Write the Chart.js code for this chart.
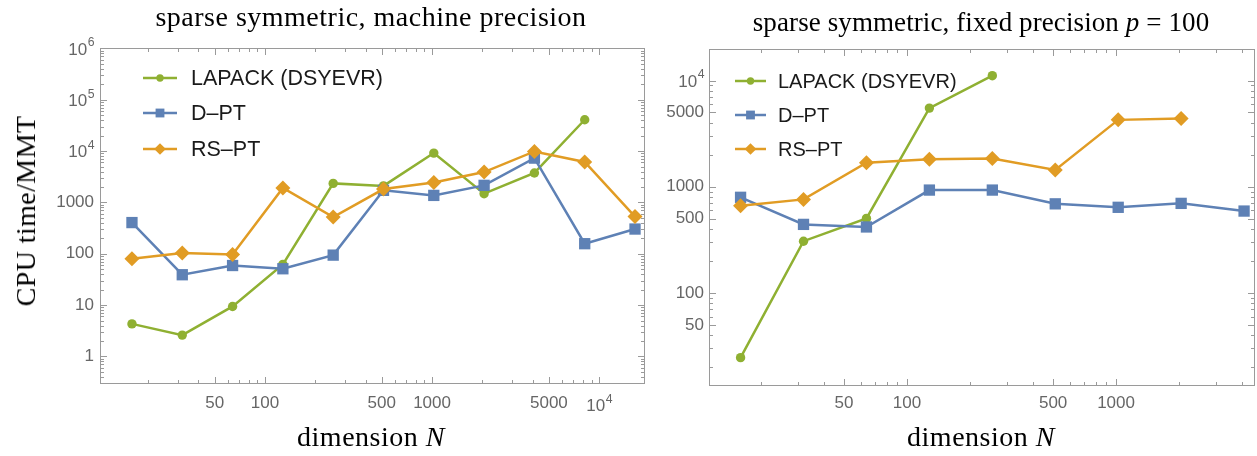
<!DOCTYPE html>
<html>
<head>
<meta charset="utf-8">
<script src="https://cdn.jsdelivr.net/npm/chart.js@4.4.1/dist/chart.umd.min.js"></script>
<style>
  html, body { margin: 0; padding: 0; background: #fff; }
  #wrap { position: relative; width: 1257px; height: 456px; overflow: hidden; }
  canvas { position: absolute; top: 0; }
  .serif {
    position: absolute; white-space: nowrap; color: #000;
    font-family: "Liberation Serif", "DejaVu Serif", serif;
    font-size: 28px; transform: translate(-50%, -50%);
  }
</style>
</head>
<body>
<div id="wrap">
  <canvas id="left" width="650" height="456" style="left:0"></canvas>
  <canvas id="right" width="607" height="456" style="left:650px"></canvas>
  <div class="serif" style="left:371px;top:17px;letter-spacing:0.5px">sparse symmetric, machine precision</div>
  <div class="serif" style="left:981px;top:22px;font-size:27px;letter-spacing:0.1px">sparse symmetric, fixed precision <i>p</i> = 100</div>
  <div class="serif" style="left:371px;top:437px;letter-spacing:0.5px">dimension <i>N</i></div>
  <div class="serif" style="left:981px;top:437px;letter-spacing:0.5px">dimension <i>N</i></div>
  <div class="serif" style="left:26px;top:211px;letter-spacing:0.4px;transform:translate(-50%,-50%) rotate(-90deg)">CPU time/MMT</div>
</div>
<script>
// matrix dimensions N
const dims = [16, 32, 64, 128, 256, 512, 1024, 2048, 4096, 8192, 16384];

// left panel: machine precision
const machLapack = [4.3, 2.6, 9.4, 62, 2350, 2100, 9150, 1480, 3750, 40800];
const machDPT = [405, 39, 59, 51, 94, 1720, 1370, 2150, 7300, 157, 303];
const machRSPT = [80, 103, 97, 1910, 520, 1820, 2450, 3900, 9850, 6150, 530];

// right panel: fixed precision p = 100
const fixedLapack = [24.6, 307, 503, 5500, 11100];
const fixedDPT = [795, 442, 418, 930, 930, 690, 640, 697, 590];
const fixedRSPT = [662, 760, 1680, 1810, 1840, 1440, 4260, 4390];

const seriesNames = ['LAPACK (DSYEVR)', 'D–PT', 'RS–PT'];

// tick labels ("10^4" gets drawn with a real superscript)
const leftXTicks = [50, 100, 500, 1000, 5000, 10000];
const leftXText = ['50', '100', '500', '1000', '5000', '10^4'];
const leftYTicks = [1, 10, 100, 1000, 10000, 100000, 1000000];
const leftYText = ['1', '10', '100', '1000', '10^4', '10^5', '10^6'];
const rightXTicks = [50, 100, 500, 1000];
const rightXText = ['50', '100', '500', '1000'];
const rightYTicks = [50, 100, 500, 1000, 5000, 10000];
const rightYText = ['50', '100', '500', '1000', '5000', '10^4'];

const GREEN = '#8fb032', BLUE = '#5e81b5', ORANGE = '#e19c24';
const FRAME = '#9a9a9a';
const TICKCOL = '#666';
const SANS = '"Liberation Sans", Arial, sans-serif';
const TICKSIZE = 17;

function pts(vals) {
  return vals.map((v, i) => ({ x: dims[i], y: v }));
}

// all 1..9 x 10^k values inside the range
function decadeTicks(min, max) {
  const out = [];
  for (let e = Math.floor(Math.log10(min)); e <= Math.ceil(Math.log10(max)); e++) {
    for (let m = 1; m <= 9; m++) {
      const v = m * Math.pow(10, e);
      if (v >= min && v <= max) out.push(v);
    }
  }
  return out;
}

function findTick(list, v) {
  return list.findIndex(u => Math.abs(u - v) < 1e-6 * u);
}

function logAxis(min, max, vals, text, size, pad) {
  return {
    type: 'logarithmic', min, max, bounds: 'data',
    grid: { display: false, drawTicks: false },
    border: { display: false },
    afterBuildTicks: (s) => {
      s.ticks = decadeTicks(min, max).map(v => ({ value: v, major: findTick(vals, v) >= 0 }));
    },
    afterFit: size,
    powLabels: { vals, text, pad },
    ticks: {
      autoSkip: false, maxRotation: 0, minRotation: 0, padding: pad,
      color: TICKCOL, font: { family: SANS, size: TICKSIZE },
      callback: (v) => {
        const i = findTick(vals, v);
        if (i < 0 || text[i].includes('^')) return '';
        return text[i];
      }
    }
  };
}

function makeSets(lap, dpt, rs) {
  const base = { borderWidth: 2.5, pointBorderWidth: 0, pointHoverRadius: 0, clip: false, fill: false, tension: 0 };
  return [
    Object.assign({ label: seriesNames[0], data: pts(lap), borderColor: GREEN, backgroundColor: GREEN, pointStyle: 'circle', pointRadius: 4.7, order: 3 }, base),
    Object.assign({ label: seriesNames[1], data: pts(dpt), borderColor: BLUE, backgroundColor: BLUE, pointStyle: 'rect', pointRadius: 8, order: 2 }, base),
    Object.assign({ label: seriesNames[2], data: pts(rs), borderColor: ORANGE, backgroundColor: ORANGE, pointStyle: 'rectRot', pointRadius: 7.5, order: 1 }, base)
  ];
}

// Mathematica-style frame with inward ticks on all four sides
const framePlugin = {
  id: 'frame',
  beforeDatasetsDraw(chart) {
    const { ctx, chartArea: a, scales: { x, y } } = chart;
    ctx.save();
    ctx.strokeStyle = FRAME;
    ctx.lineWidth = 1;
    ctx.strokeRect(a.left + 0.5, a.top + 0.5, a.right - a.left - 1, a.bottom - a.top - 1);
    ctx.beginPath();
    x.ticks.forEach(t => {
      const px = Math.round(x.getPixelForValue(t.value)) + 0.5;
      const len = t.major ? 7 : 4;
      ctx.moveTo(px, a.bottom); ctx.lineTo(px, a.bottom - len);
      ctx.moveTo(px, a.top); ctx.lineTo(px, a.top + len);
    });
    y.ticks.forEach(t => {
      const py = Math.round(y.getPixelForValue(t.value)) + 0.5;
      const len = t.major ? 7 : 4;
      ctx.moveTo(a.left, py); ctx.lineTo(a.left + len, py);
      ctx.moveTo(a.right, py); ctx.lineTo(a.right - len, py);
    });
    ctx.stroke();
    ctx.restore();
  },
  // power-of-ten labels with a proper superscript
  afterDraw(chart) {
    const { ctx, chartArea: a } = chart;
    ctx.save();
    ctx.fillStyle = TICKCOL;
    ctx.textBaseline = 'alphabetic';
    ['x', 'y'].forEach(id => {
      const s = chart.scales[id];
      const p = s.options.powLabels;
      p.text.forEach((t, i) => {
        if (!t.includes('^')) return;
        const v = p.vals[i];
        if (v < s.min || v > s.max) return;
        const [b, e] = t.split('^');
        ctx.font = TICKSIZE + 'px ' + SANS;
        const wb = ctx.measureText(b).width;
        ctx.font = (TICKSIZE * 0.72) + 'px ' + SANS;
        const we = ctx.measureText(e).width;
        let x0, base;
        if (id === 'x') {
          const px = s.getPixelForValue(v);
          x0 = px - (wb + we) / 2;
          base = a.bottom + p.pad + TICKSIZE * 0.85 + 4;
        } else {
          const py = s.getPixelForValue(v);
          x0 = a.left - p.pad - wb - we;
          base = py + TICKSIZE * 0.36;
        }
        ctx.font = TICKSIZE + 'px ' + SANS;
        ctx.fillText(b, x0, base);
        ctx.font = (TICKSIZE * 0.72) + 'px ' + SANS;
        ctx.fillText(e, x0 + wb + 0.5, base - TICKSIZE * 0.48);
      });
    });
    ctx.restore();
  }
};

// legend drawn inside the plot area
const insetLegend = {
  id: 'insetLegend',
  afterDatasetsDraw(chart, args, opts) {
    const ctx = chart.ctx;
    ctx.save();
    chart.data.datasets.forEach((ds, i) => {
      const yy = opts.rows[i];
      ctx.strokeStyle = ds.borderColor;
      ctx.lineWidth = 2.5;
      ctx.beginPath();
      ctx.moveTo(opts.x0, yy); ctx.lineTo(opts.x1, yy);
      ctx.stroke();
      ctx.fillStyle = ds.backgroundColor;
      Chart.helpers.drawPoint(ctx, {
        pointStyle: ds.pointStyle, rotation: 0, borderWidth: 0,
        radius: ds.pointRadius * 0.78
      }, (opts.x0 + opts.x1) / 2, yy);
      ctx.fillStyle = '#1a1a1a';
      ctx.font = opts.size + 'px ' + SANS;
      ctx.textBaseline = 'middle';
      ctx.fillText(ds.label, opts.tx, yy + 1);
    });
    ctx.restore();
  }
};

Chart.register(framePlugin, insetLegend);

function makeChart(id, sets, xAxis, yAxis, pad, legend) {
  return new Chart(document.getElementById(id), {
    type: 'line',
    data: { datasets: sets },
    options: {
      responsive: false,
      animation: false,
      layout: { padding: pad, autoPadding: false },
      plugins: { legend: { display: false }, tooltip: { enabled: false }, insetLegend: legend },
      scales: { x: xAxis, y: yAxis }
    }
  });
}

makeChart('left',
  makeSets(machLapack, machDPT, machRSPT),
  logAxis(10.3, 18800, leftXTicks, leftXText, s => { s.height = 72; }, 9),
  logAxis(0.29, 1.02e6, leftYTicks, leftYText, s => { s.width = 100; }, 6),
  { top: 48, right: 5, left: 0, bottom: 0 },
  { x0: 143, x1: 177, tx: 191, rows: [78, 113, 149], size: 21.5 });

makeChart('right',
  makeSets(fixedLapack, fixedDPT, fixedRSPT),
  logAxis(11.3, 4620, rightXTicks, rightXText, s => { s.height = 70; }, 7),
  logAxis(13.3, 19800, rightYTicks, rightYText, s => { s.width = 59; }, 5),
  { top: 49, right: 2, left: 0, bottom: 0 },
  { x0: 85, x1: 116, tx: 128, rows: [81, 115, 149], size: 20 });
</script>
</body>
</html>
